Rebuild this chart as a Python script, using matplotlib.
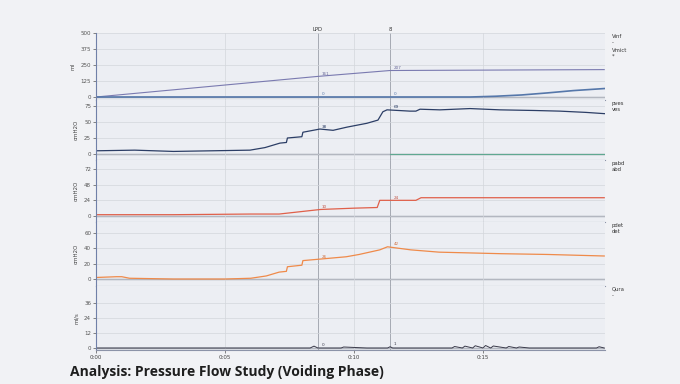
import numpy as np
import matplotlib
matplotlib.use('Agg')
import matplotlib.pyplot as plt

# time in minutes
vinf_t = [0, 8.6, 11.4, 19.7]
vinf = [0, 161, 207, 214]

vmict_t = [0, 14.5, 15.5, 16.5, 17.5, 18.5, 19.7]
vmict = [0, 0, 6, 16, 32, 50, 66]

pves_t = [0, 1.5, 3.0, 4.5, 5.97, 6.55, 7.13, 7.38, 7.42, 7.98, 8.02, 8.68, 9.19, 9.73, 10.5,
          10.93, 11.12, 11.28, 12.17, 12.4, 12.56, 13.33, 14.5, 15.66, 17.0, 17.98, 19.0, 19.73]
pves = [5, 6, 4, 5, 6, 10, 17, 18, 25, 27, 34, 39, 37, 42, 48,
        53, 66, 69, 67, 67, 70, 69, 71, 69, 68, 67, 65, 63]

pabd_t = [0, 3.0, 6.0, 7.1, 8.7, 10.0, 10.9, 11.0, 12.4, 12.6, 19.7]
pabd = [2, 2, 3, 3, 10, 12, 13, 24, 24, 28, 28]

pdet_t = [0, 0.8, 1.0, 1.3, 3.0, 5.0, 6.0, 6.6, 7.1, 7.38, 7.42, 7.98, 8.02, 8.7, 9.7,
          10.2, 11.0, 11.3, 12.2, 13.3, 15.7, 17.5, 19.7]
pdet = [2, 3, 3, 1, 0, 0, 1, 4, 9, 10, 16, 18, 24, 26, 29,
        32, 38, 42, 38, 35, 33, 32, 30]

qura_t = [0, 8.3, 8.45, 8.6, 9.5, 9.6, 10.5, 11.3, 11.4, 11.5, 13.8, 13.9, 14.2, 14.3, 14.6,
          14.7, 15.0, 15.1, 15.3, 15.4, 15.9, 16.0, 16.3, 16.4, 16.8, 19.4, 19.5, 19.7]
qura = [0, 0, 1.5, 0, 0, 0.8, 0, 0, 1.0, 0, 0, 1.2, 0, 1.5, 0,
        1.8, 0, 2.0, 0, 1.6, 0, 1.2, 0, 0.8, 0, 0, 1.0, 0]

event_t = [8.6, 11.4]
event_names = ['LPD', '8']

xticks = [0, 5, 10, 15]
xticklabels = ['0:00', '0:05', '0:10', '0:15']

W, H = 680, 384
BG = '#f1f2f5'
fig = plt.figure(figsize=(6.8, 3.84), dpi=100, facecolor=BG)


def add_panel(top, bottom, ylim, yticks, ylabel, right1, right2):
    ax = fig.add_axes([96 / W, 1 - bottom / H, (605 - 96) / W, (bottom - top) / H])
    ax.set_facecolor('#eceef3')
    ax.set_xlim(0, 19.73)
    ax.set_ylim(*ylim)
    ax.set_yticks(yticks)
    ax.set_yticklabels([str(v) for v in yticks], fontsize=4, color='#444444')
    ax.set_xticks(xticks)
    ax.set_xticklabels([])
    ax.tick_params(length=2, width=0.5, colors='#555555', pad=1.5)
    ax.grid(True, color='#d3d6dc', lw=0.5)
    for s in ['top', 'right']:
        ax.spines[s].set_visible(False)
    ax.spines['left'].set_color('#7080a8')
    ax.spines['left'].set_linewidth(0.8)
    ax.spines['bottom'].set_color('#8c93a8')
    ax.spines['bottom'].set_linewidth(0.8)
    ax.axhline(0, color='#6a7080', lw=0.9, zorder=1)
    for t in event_t:
        ax.axvline(t, color='#9a9ea8', lw=0.6, zorder=1)
    ax.set_ylabel(ylabel, fontsize=4, color='#444444', labelpad=4)
    ax.text(1.013, 0.99, right1 + '\n' + right2, transform=ax.transAxes, fontsize=3.8,
            va='top', ha='left', color='#333333', linespacing=1.4)
    return ax


def mark(ax, t, y, c, dy=0):
    for e in event_t:
        v = np.interp(e, t, y)
        ax.text(e + 0.15, v + dy, str(int(round(v))), fontsize=3, color=c, va='bottom')


ax1 = add_panel(33, 100, (-23.4, 500), [0, 125, 250, 375, 500], 'ml', 'Vinf', '-')
ax1.plot(vinf_t, vinf, color='#7a7ab0', lw=0.8)
ax1.plot(vmict_t, vmict, color='#5577aa', lw=1.2)
mark(ax1, vinf_t, vinf, '#6a6a9a', 4)
mark(ax1, vmict_t, vmict, '#5577aa', 4)
ax1.text(1.013, 0.78, 'Vmict\n*', transform=ax1.transAxes, fontsize=3.8, va='top', color='#333333')
for t, n in zip(event_t, event_names):
    ax1.text(t, 505, n, fontsize=3.8, ha='center', va='bottom', color='#333333')

ax2 = add_panel(100, 160, (-9.4, 84.4), [0, 25, 50, 75], 'cmH2O', 'pves', 'ves')
ax2.plot(pves_t, pves, color='#2c3e66', lw=0.9)
ax2.plot([11.4, 19.73], [0, 0], color='#5fa890', lw=0.8)
mark(ax2, pves_t, pves, '#2c3e66', 1)

ax3 = add_panel(160, 222, (-9.2, 85.8), [0, 24, 48, 72], 'cmH2O', 'pabd', 'abd')
ax3.plot(pabd_t, pabd, color='#e0604a', lw=0.9)
mark(ax3, pabd_t, pabd, '#c05040', 1)

ax4 = add_panel(222, 286, (-9.1, 74.3), [0, 20, 40, 60], 'cmH2O', 'pdet', 'det')
ax4.plot(pdet_t, pdet, color='#ef8a4a', lw=0.9)
mark(ax4, pdet_t, pdet, '#d07040', 1)

ax5 = add_panel(286, 350, (-1.6, 49.6), [0, 12, 24, 36], 'ml/s', 'Qura', '-')
ax5.plot(qura_t, qura, color='#3a3a4a', lw=0.7)
mark(ax5, qura_t, qura, '#3a3a4a', 0.5)
ax5.set_xticklabels(xticklabels, fontsize=4, color='#444444')
ax5.tick_params(axis='x', length=2, pad=1.5)

fig.text(70 / W, 1 - 372 / H, 'Analysis: Pressure Flow Study (Voiding Phase)', fontsize=10,
         fontweight='bold', family='Open Sans', color='#1e1e1e', va='center')

fig.savefig('out.png', dpi=100, facecolor=BG)
